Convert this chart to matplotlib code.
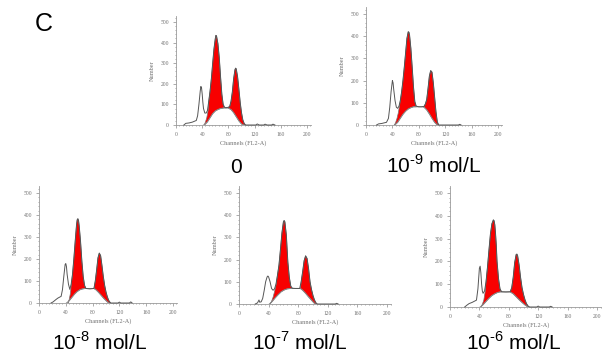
import matplotlib.pyplot as plt
from matplotlib.ticker import MultipleLocator

plt.rcParams['font.family'] = ['Liberation Sans', 'DejaVu Sans']
plt.rcParams['mathtext.fontset'] = 'custom'
plt.rcParams['mathtext.rm'] = 'Liberation Sans'

# ---- datos (canal, numero de celulas) ----
# panel 0
P1_X = [12, 15, 20, 25, 28, 31, 33, 35, 37, 38, 39, 40, 41, 42, 44, 46, 48, 50, 52, 54, 56, 58, 60, 61, 62, 64, 66, 68, 70, 72, 74, 76, 80, 82, 84, 86, 88, 90, 91, 92, 94, 96, 98, 100, 102, 104, 106, 122, 124, 127, 134, 136, 139, 146, 148, 151]
P1_Y = [0, 8, 10, 14, 18, 22, 45, 100, 165, 187, 180, 150, 110, 80, 58, 58, 70, 115, 165, 225, 300, 370, 420, 435, 430, 395, 330, 235, 150, 100, 86, 84, 86, 90, 115, 160, 225, 268, 276, 272, 235, 175, 110, 60, 25, 8, 0, 0, 5, 0, 0, 4, 0, 0, 4, 0]
P1_SX = [42, 44, 48, 52, 56, 60, 64, 68, 72, 80, 84, 88, 92, 96, 100, 103]
P1_SY = [0, 2, 15, 35, 55, 68, 75, 80, 82, 82, 75, 60, 40, 20, 5, 0]
P1_G1X = [43, 45, 47, 49, 50, 52, 54, 56, 58, 60, 61, 62, 64, 66, 68, 70, 72, 74]
P1_G1Y = [0, 15, 35, 70, 115, 165, 225, 300, 370, 420, 435, 430, 395, 330, 235, 150, 100, 86]
P1_G2X = [80, 82, 84, 86, 88, 90, 91, 92, 94, 96, 98, 100, 102, 104, 106]
P1_G2Y = [86, 90, 115, 160, 225, 268, 276, 272, 235, 175, 110, 60, 25, 8, 0]

# panel 10^-9
P2_X = [16, 19, 24, 28, 31, 34, 36, 38, 40, 41, 42, 44, 46, 48, 50, 52, 54, 56, 58, 60, 62, 64, 65, 66, 68, 70, 72, 74, 76, 80, 84, 88, 90, 92, 94, 96, 98, 100, 102, 104, 106, 108, 110, 140, 142, 144]
P2_Y = [0, 5, 7, 10, 12, 30, 80, 150, 200, 190, 160, 110, 80, 75, 85, 110, 150, 200, 260, 325, 390, 420, 418, 405, 345, 260, 170, 105, 85, 82, 82, 84, 95, 115, 165, 220, 245, 238, 190, 125, 60, 15, 0, 0, 3, 0]
P2_SX = [43, 44, 48, 52, 56, 60, 64, 68, 72, 76, 86, 88, 92, 96, 100, 104, 108]
P2_SY = [0, 1, 12, 30, 48, 62, 72, 78, 82, 82, 82, 80, 68, 50, 30, 12, 0]
P2_G1X = [43, 45, 47, 49, 51, 53, 54, 56, 58, 60, 62, 64, 65, 66, 68, 70, 72, 74, 76]
P2_G1Y = [0, 12, 30, 55, 90, 130, 150, 200, 260, 325, 390, 420, 418, 405, 345, 260, 170, 105, 85]
P2_G2X = [86, 88, 90, 92, 94, 96, 98, 100, 102, 104, 106, 108, 110]
P2_G2Y = [82, 84, 95, 115, 165, 220, 245, 238, 190, 125, 60, 15, 0]

# panel 10^-8
P3_X = [18, 21, 25, 28, 31, 33, 35, 37, 39, 40, 41, 42, 44, 46, 48, 50, 52, 54, 56, 57, 58, 59, 60, 62, 64, 66, 68, 70, 76, 82, 84, 86, 88, 90, 92, 94, 96, 98, 100, 102, 104, 106, 107, 118, 120, 122, 135, 137, 139]
P3_Y = [0, 5, 15, 22, 27, 30, 60, 120, 175, 179, 165, 130, 85, 62, 85, 130, 200, 280, 355, 378, 383, 375, 350, 280, 190, 120, 80, 66, 64, 66, 100, 150, 205, 227, 215, 170, 120, 80, 50, 28, 12, 3, 0, 0, 4, 0, 0, 5, 0]
P3_SX = [41, 45, 49, 53, 57, 61, 65, 69, 82, 85, 89, 93, 97, 101, 104]
P3_SY = [0, 10, 25, 40, 52, 60, 64, 66, 66, 60, 48, 34, 20, 8, 0]
P3_G1X = [43, 45, 47, 48, 50, 52, 54, 56, 57, 58, 59, 60, 62, 64, 66, 68, 70]
P3_G1Y = [0, 15, 45, 80, 130, 200, 280, 355, 378, 383, 375, 350, 280, 190, 120, 80, 66]
P3_G2X = [82, 84, 86, 88, 90, 92, 94, 96, 98, 100, 102, 104, 106, 107]
P3_G2Y = [66, 100, 150, 205, 227, 215, 170, 120, 80, 50, 28, 12, 3, 0]

# panel 10^-7
P4_X = [22, 25, 27, 28, 30, 32, 34, 36, 38, 39, 40, 42, 44, 46, 48, 50, 52, 54, 56, 58, 60, 61, 62, 64, 66, 68, 70, 72, 76, 82, 84, 86, 88, 90, 92, 94, 96, 98, 100, 102, 104, 106, 130, 132, 134]
P4_Y = [0, 5, 18, 8, 10, 25, 60, 100, 122, 126, 122, 100, 70, 62, 68, 90, 130, 175, 245, 320, 370, 376, 370, 310, 190, 120, 80, 71, 70, 70, 100, 145, 195, 217, 205, 160, 100, 65, 38, 18, 5, 0, 0, 3, 0]
P4_SX = [41, 45, 49, 53, 57, 61, 65, 70, 83, 86, 90, 94, 98, 101, 103]
P4_SY = [0, 12, 28, 42, 55, 63, 68, 70, 70, 62, 48, 32, 17, 6, 0]
P4_G1X = [42, 44, 46, 48, 50, 52, 54, 56, 58, 60, 61, 62, 64, 66, 68, 70, 72]
P4_G1Y = [0, 12, 30, 55, 85, 130, 175, 245, 320, 370, 376, 370, 310, 190, 120, 80, 71]
P4_G2X = [83, 84, 86, 88, 90, 92, 94, 96, 98, 100, 102, 104, 105]
P4_G2Y = [70, 100, 145, 195, 217, 205, 160, 100, 65, 38, 18, 5, 0]

# panel 10^-6
P5_X = [20, 23, 26, 30, 33, 36, 38, 40, 41, 42, 43, 44, 45, 47, 49, 51, 53, 55, 57, 59, 60, 61, 62, 63, 64, 66, 68, 70, 76, 82, 84, 86, 88, 90, 91, 92, 94, 96, 98, 100, 102, 104, 106, 108, 118, 120, 122, 135, 137, 139]
P5_Y = [0, 8, 15, 20, 25, 30, 80, 170, 179, 150, 100, 70, 60, 70, 110, 175, 250, 320, 365, 382, 378, 360, 320, 270, 200, 125, 80, 67, 66, 67, 85, 130, 195, 230, 232, 225, 185, 130, 85, 55, 32, 15, 5, 0, 0, 4, 0, 0, 3, 0]
P5_SX = [41, 45, 49, 53, 57, 61, 65, 68, 82, 86, 90, 94, 98, 102, 106]
P5_SY = [0, 10, 24, 38, 50, 58, 64, 66, 66, 58, 45, 32, 20, 9, 0]
P5_G1X = [42, 44, 46, 48, 49, 51, 53, 55, 57, 59, 60, 61, 62, 63, 64, 66, 68, 70]
P5_G1Y = [0, 12, 30, 70, 110, 175, 250, 320, 365, 382, 378, 360, 320, 270, 200, 125, 80, 67]
P5_G2X = [82, 84, 86, 88, 90, 91, 92, 94, 96, 98, 100, 102, 104, 106, 108]
P5_G2Y = [67, 85, 130, 195, 230, 232, 225, 185, 130, 85, 55, 32, 15, 5, 0]

LABELS = ['0', '10$^{\\text{-9}}$ mol/L', '10$^{\\text{-8}}$ mol/L',
          '10$^{\\text{-7}}$ mol/L', '10$^{\\text{-6}}$ mol/L']

PANELS = [
    (P1_X, P1_Y, P1_SX, P1_SY, P1_G1X, P1_G1Y, P1_G2X, P1_G2Y),
    (P2_X, P2_Y, P2_SX, P2_SY, P2_G1X, P2_G1Y, P2_G2X, P2_G2Y),
    (P3_X, P3_Y, P3_SX, P3_SY, P3_G1X, P3_G1Y, P3_G2X, P3_G2Y),
    (P4_X, P4_Y, P4_SX, P4_SY, P4_G1X, P4_G1Y, P4_G2X, P4_G2Y),
    (P5_X, P5_Y, P5_SX, P5_SY, P5_G1X, P5_G1Y, P5_G2X, P5_G2Y),
]

# posicion de cada panel en pixeles: x del canal 0, x del canal 200, y del 0, y del 500
GEOM = [(176, 307, 125, 22), (366, 498, 125, 14), (39, 173, 303, 193),
        (239, 387, 304, 193), (450, 597, 307, 193)]
# posicion de la etiqueta (centro x, linea base y)
LABEL_POS = [(236, 173), (434, 173), (100, 350), (300, 350), (514, 350)]

W, H = 607, 357
XMAX, YMAX = 206, 530
fig = plt.figure(figsize=(W / 100, H / 100), dpi=100)

RED = '#f80000'
LINE = '#555555'


def red_polygon(gx, gy, sx, sy):
    # borde superior del pico + curva de fase S en sentido inverso
    lo, hi = gx[0], gx[-1]
    bx = [x for x in sx if lo <= x <= hi]
    by = [y for x, y in zip(sx, sy) if lo <= x <= hi]
    return list(gx) + bx[::-1], list(gy) + by[::-1]


for (x, y, sx, sy, g1x, g1y, g2x, g2y), (x0, x200, y0, y500) in zip(PANELS, GEOM):
    wpx = (x200 - x0) * XMAX / 200
    hpx = (y0 - y500) * YMAX / 500
    ax = fig.add_axes([x0 / W, (H - y0) / H, wpx / W, hpx / H])

    for gx, gy in [(g1x, g1y), (g2x, g2y)]:
        px, py = red_polygon(gx, gy, sx, sy)
        ax.fill(px, py, facecolor=RED, edgecolor='#777777', linewidth=0.5, zorder=2)
    ax.plot(sx, sy, color='#8a8a8a', linewidth=0.7, zorder=3)
    ax.plot(x, y, color=LINE, linewidth=0.7, zorder=4, clip_on=False)

    ax.set_xlim(0, XMAX)
    ax.set_ylim(0, YMAX)
    ax.set_xticks(range(0, 201, 40))
    ax.set_yticks(range(0, 501, 100))
    ax.xaxis.set_minor_locator(MultipleLocator(5))
    ax.yaxis.set_minor_locator(MultipleLocator(20))
    for s in ['top', 'right']:
        ax.spines[s].set_visible(False)
    for s in ['left', 'bottom']:
        ax.spines[s].set_color('#9a9a9a')
        ax.spines[s].set_linewidth(0.6)
    ax.tick_params(which='both', direction='out', color='#8a8a8a', width=0.5,
                   labelsize=4, labelcolor='#707070', pad=3)
    ax.tick_params(which='major', length=2)
    ax.tick_params(which='minor', length=1)
    for lab in ax.get_xticklabels() + ax.get_yticklabels():
        lab.set_family('Liberation Serif')
    ax.set_xlabel('Channels (FL2-A)', fontsize=4.5, color='#707070',
                  family='Liberation Serif', labelpad=2)
    ax.set_ylabel('Number', fontsize=4.5, color='#707070',
                  family='Liberation Serif', labelpad=4)
    ax.patch.set_alpha(0)

for lab, (cx, cy) in zip(LABELS, LABEL_POS):
    fig.text(cx / W, 1 - cy / H, lab, ha='center', va='baseline', fontsize=15)

fig.text(44 / W, 1 - 24 / H, 'C', ha='center', va='center', fontsize=18)

fig.savefig('out.png', dpi=100, facecolor='white')
